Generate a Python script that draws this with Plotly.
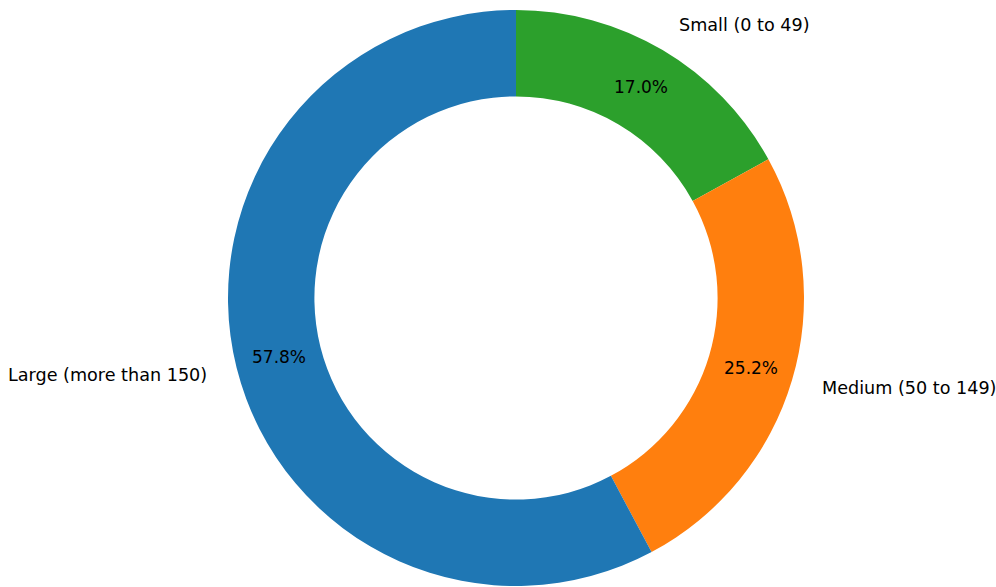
import math
import plotly.graph_objects as go

# Company size breakdown
labels = ["Small (0 to 49)", "Medium (50 to 149)", "Large (more than 150)"]
values = [17.0, 25.2, 57.8]
colors = ["#2ca02c", "#ff7f0e", "#1f77b4"]

W, H = 996, 587
CX, CY = 516, 298          # pie centre in pixels (from top-left)
R = 288                    # outer radius in pixels
HOLE = 0.7
FONT = "DejaVu Sans"

fig = go.Figure(
    go.Pie(
        labels=labels,
        values=values,
        marker=dict(colors=colors, line=dict(width=0)),
        hole=HOLE,
        sort=False,
        direction="clockwise",
        rotation=0,
        textinfo="none",
        hoverinfo="label+percent",
        showlegend=False,
        domain=dict(
            x=[(CX - R) / W, (CX + R) / W],
            y=[(H - CY - R) / H, (H - CY + R) / H],
        ),
    )
)

# Outer category labels and inner percentage labels, placed at each wedge's mid-angle
total = sum(values)
start = 90.0
annotations = []
for lab, v in zip(labels, values):
    span = 360.0 * v / total
    mid = math.radians(start - span / 2)
    start -= span
    c, s = math.cos(mid), math.sin(mid)
    # label at 1.1 R
    lx = CX + 1.1 * R * c
    ly = CY - 1.1 * R * s
    annotations.append(dict(
        x=lx / W, y=1 - ly / H, xref="paper", yref="paper",
        text=lab, showarrow=False,
        xanchor="left" if c > 0 else "right", yanchor="middle",
        font=dict(family=FONT, size=17.6, color="#000000"),
    ))
    # percentage at 0.85 R
    px = CX + 0.85 * R * c
    py = CY - 0.85 * R * s
    annotations.append(dict(
        x=px / W, y=1 - py / H, xref="paper", yref="paper",
        text=f"{100 * v / total:.1f}%", showarrow=False,
        xanchor="center", yanchor="middle",
        font=dict(family=FONT, size=17, color="#000000"),
    ))

fig.update_layout(
    width=W, height=H,
    margin=dict(l=0, r=0, t=0, b=0),
    paper_bgcolor="white",
    plot_bgcolor="white",
    annotations=annotations,
)

fig.write_html("out.html")
